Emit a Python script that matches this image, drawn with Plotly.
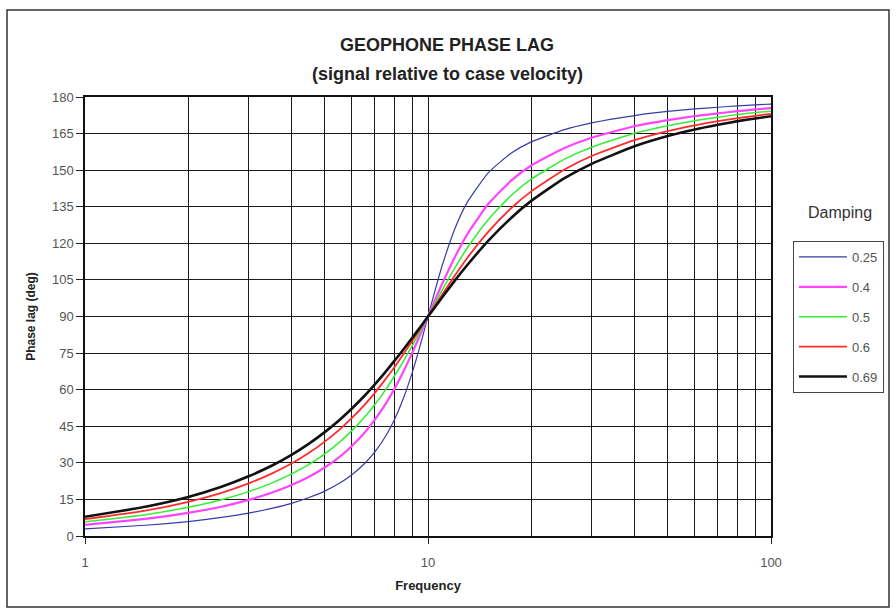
import plotly.graph_objects as go

# Frequency (Hz) sample points
freq = [1, 1.5, 2, 2.5, 3, 3.5, 4, 4.5, 5, 5.5, 6, 6.5, 7, 7.5, 8, 8.5, 9, 9.5, 10,
        10.5, 11, 12, 13, 15, 17.5, 20, 25, 30, 40, 50, 60, 70, 80, 90, 100]

# Phase lag (deg) per damping value
phase_025 = [2.9, 4.4, 5.9, 7.6, 9.4, 11.3, 13.4, 15.8, 18.4, 21.5, 25.1, 29.4, 34.5, 40.6, 48.0, 56.9, 67.1, 78.4, 90.0,
             101.0, 110.9, 126.3, 136.7, 149.0, 157.0, 161.6, 166.6, 169.4, 172.4, 174.1, 175.1, 175.8, 176.4, 176.8, 177.1]
phase_040 = [4.6, 7.0, 9.5, 12.0, 14.8, 17.7, 20.9, 24.3, 28.1, 32.2, 36.9, 42.0, 47.7, 53.9, 60.6, 67.8, 75.2, 82.7, 90.0,
             97.0, 103.4, 114.6, 123.6, 136.2, 145.8, 151.9, 159.1, 163.3, 168.0, 170.5, 172.2, 173.3, 174.2, 174.9, 175.4]
phase_050 = [5.8, 8.7, 11.8, 14.9, 18.2, 21.7, 25.5, 29.4, 33.7, 38.3, 43.2, 48.4, 53.9, 59.7, 65.8, 71.9, 78.1, 84.1, 90.0,
             95.6, 100.8, 110.1, 118.0, 129.8, 139.7, 146.3, 154.5, 159.4, 165.1, 168.2, 170.3, 171.7, 172.8, 173.6, 174.2]
phase_060 = [6.9, 10.4, 14.0, 17.7, 21.6, 25.6, 29.7, 34.1, 38.7, 43.4, 48.4, 53.5, 58.7, 64.1, 69.4, 74.8, 80.0, 85.1, 90.0,
             94.7, 99.0, 107.0, 113.9, 124.8, 134.5, 141.3, 150.3, 155.8, 162.3, 166.0, 168.4, 170.1, 171.3, 172.3, 173.1]
phase_069 = [7.9, 12.0, 16.0, 20.2, 24.5, 28.8, 33.3, 37.9, 42.6, 47.4, 52.3, 57.2, 62.2, 67.1, 72.0, 76.7, 81.3, 85.7, 90.0,
             94.0, 97.9, 104.9, 111.0, 121.1, 130.5, 137.4, 146.7, 152.6, 159.8, 164.0, 166.7, 168.6, 170.1, 171.2, 172.1]

series_names = ["0.25", "0.4", "0.5", "0.6", "0.69"]
series_values = [phase_025, phase_040, phase_050, phase_060, phase_069]
series_colors = ["#3a3aa8", "#ff44ff", "#33ee33", "#ff2a2a", "#111111"]
series_widths = [1.2, 2.2, 1.5, 1.8, 2.6]

x_major_ticks = [1, 10, 100]
x_minor_ticks = [2, 3, 4, 5, 6, 7, 8, 9, 20, 30, 40, 50, 60, 70, 80, 90]
y_ticks = list(range(0, 181, 15))

FONT = "Liberation Sans, Arial, sans-serif"

fig = go.Figure()
for i, (name, vals, col, w) in enumerate(zip(series_names, series_values, series_colors, series_widths)):
    fig.add_trace(go.Scatter(
        x=freq, y=vals, mode="lines", name=name,
        line=dict(color=col, width=w, shape="spline", smoothing=0.5),
        legendgroup=f"g{i}",
    ))

grid_col = "#1a1a1a"
fig.update_layout(
    width=896, height=612,
    margin=dict(l=85, r=125, t=97, b=76),
    paper_bgcolor="white", plot_bgcolor="white",
    font=dict(family=FONT, size=13, color="#555555"),
    showlegend=True,
    legend=dict(
        x=1.032, y=0.672, xanchor="left", yanchor="top",
        bordercolor="#444444", borderwidth=1, bgcolor="white",
        font=dict(family=FONT, size=13, color="#555555"),
        tracegroupgap=10, itemwidth=48,
    ),
    xaxis=dict(
        type="log", range=[0, 2],
        tickvals=x_major_ticks, ticktext=[str(v) for v in x_major_ticks],
        ticks="outside", ticklen=6, tickcolor="#222222",
        ticklabelstandoff=8,
        showgrid=True, gridcolor=grid_col, gridwidth=1,
        minor=dict(tickvals=x_minor_ticks, showgrid=True, gridcolor=grid_col, gridwidth=1, ticks=""),
        showline=True, linecolor="#111111", linewidth=1.5, mirror=True,
        zeroline=False,
        title=dict(text="<b>Frequency</b>", font=dict(family=FONT, size=13, color="#222222"), standoff=12),
        tickfont=dict(size=13, color="#555555"),
    ),
    yaxis=dict(
        range=[0, 180], tickvals=y_ticks,
        ticks="outside", ticklen=7, tickcolor="#222222",
        showgrid=True, gridcolor=grid_col, gridwidth=1,
        showline=True, linecolor="#111111", linewidth=1.5, mirror=True,
        zeroline=False,
        title=dict(text="<b>Phase lag (deg)</b>", font=dict(family=FONT, size=12, color="#222222"), standoff=14),
        tickfont=dict(size=13, color="#555555"),
    ),
    annotations=[
        dict(text="<b>GEOPHONE PHASE LAG</b>", xref="paper", yref="paper",
             x=0.5284, y=1.1184, xanchor="center", yanchor="middle", showarrow=False,
             font=dict(family=FONT, size=18, color="#222222")),
        dict(text="<b>(signal relative to case velocity)</b>", xref="paper", yref="paper",
             x=0.5284, y=1.0524, xanchor="center", yanchor="middle", showarrow=False,
             font=dict(family=FONT, size=18, color="#222222")),
        dict(text="Damping", xref="paper", yref="paper",
             x=1.1006, y=0.7358, xanchor="center", yanchor="middle", showarrow=False,
             font=dict(family=FONT, size=16, color="#333333")),
    ],
    shapes=[
        dict(type="rect", xref="paper", yref="paper",
             x0=-0.1137, x1=1.172, y0=-0.1617, y1=1.198,
             line=dict(color="#333333", width=1.5), fillcolor="rgba(0,0,0,0)", layer="below"),
    ],
)

fig.write_html("out.html")
